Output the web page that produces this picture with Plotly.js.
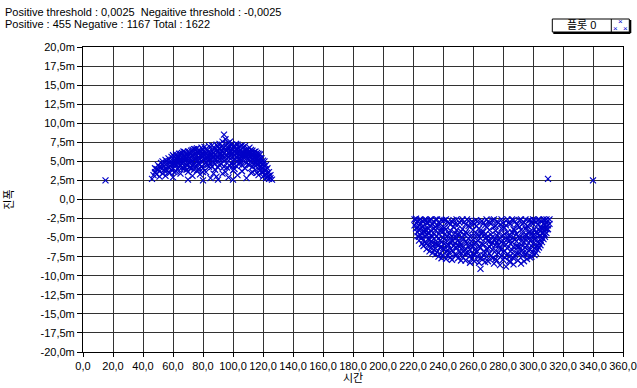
<!DOCTYPE html>
<html>
<head>
<meta charset="utf-8">
<script src="https://cdn.plot.ly/plotly-3.0.1.min.js"></script>
<style>html,body{margin:0;padding:0;background:#fff;}#chart{width:637px;height:388px;}</style>
</head>
<body>
<div id="chart"></div>
<script>
// Series name
var seriesName = '플롯 0';
// Header texts
var headerLine1 = 'Positive threshold : 0,0025  Negaitive threshold : -0,0025';
var headerLine2 = 'Positive : 455 Negative : 1167 Total : 1622';
// Axis titles
var xTitle = '시간';
var yTitle = '진폭';
// Tick values / labels
var xTickVals = [0,20,40,60,80,100,120,140,160,180,200,220,240,260,280,300,320,340,360];
var xTickText = ['0,0','20,0','40,0','60,0','80,0','100,0','120,0','140,0','160,0','180,0','200,0','220,0','240,0','260,0','280,0','300,0','320,0','340,0','360,0'];
var yTickVals = [20,17.5,15,12.5,10,7.5,5,2.5,0,-2.5,-5,-7.5,-10,-12.5,-15,-17.5,-20];
var yTickText = ['20,0m','17,5m','15,0m','12,5m','10,0m','7,5m','5,0m','2,5m','0,0','-2,5m','-5,0m','-7,5m','-10,0m','-12,5m','-15,0m','-17,5m','-20,0m'];

// Positive cluster points [time, amplitude(m)]
var positivePts = [
[46,2.7],[47,3.2],[48,3.6],[48,4.1],[49,3.3],[50,3.9],[50,4.5],[51,3.0],[51,3.7],[52,4.2],[52,4.8],[53,3.4],[53,5.0],[54,3.9],[54,4.4],[55,5.2],[55,3.1],[56,4.7],[56,3.8],[57,5.4],[57,4.2],[58,5.0],[58,3.5],[59,5.6],[59,4.6],
[60,5.8],[60,4.1],[60,2.9],[61,5.2],[61,4.6],[62,5.9],[62,3.7],[63,5.5],[63,4.9],[64,6.0],[64,4.3],[65,5.3],[65,3.4],[66,6.1],[66,4.8],[67,5.7],[67,4.0],[68,6.2],[68,5.1],[69,4.5],[69,5.9],[70,6.3],[70,3.6],[70,2.6],
[71,5.4],[71,4.2],[72,6.4],[72,4.9],[73,5.8],[73,3.1],[74,6.6],[74,5.2],[75,4.4],[75,6.0],[76,6.7],[76,3.8],[77,5.5],[77,4.7],[78,6.3],[78,3.3],[79,6.8],[79,5.0],[80,5.9],[80,4.1],[80,2.5],
[81,6.9],[81,4.6],[82,5.6],[82,3.6],[83,6.5],[83,5.1],[84,7.0],[84,4.3],[85,6.1],[85,2.8],[86,5.4],[86,7.1],[87,4.8],[87,6.6],[88,3.9],[88,5.8],[89,7.2],[89,3.0],[90,6.3],[90,5.0],[90,2.6],
[91,7.3],[91,4.5],[92,6.0],[92,5.5],[93,7.6],[93,3.4],[94,8.5],[94,6.8],[95,5.2],[95,7.9],[96,4.2],[96,6.4],[97,7.4],[97,2.9],[98,5.7],[98,6.9],[99,4.7],[99,7.2],[100,6.1],[100,3.8],[100,2.6],
[101,7.0],[101,5.3],[102,6.6],[102,4.4],[103,7.2],[103,3.2],[104,5.9],[104,6.8],[105,4.9],[105,7.0],[106,6.2],[106,3.7],[107,5.5],[107,6.9],[108,4.1],[108,6.4],[109,5.8],[109,2.8],[110,6.6],[110,4.6],
[111,5.2],[111,6.3],[112,3.5],[112,6.5],[113,5.7],[113,4.3],[114,6.2],[114,5.0],[115,6.3],[115,3.9],[116,5.5],[116,4.6],[117,6.0],[117,3.2],[118,5.4],[118,4.2],[119,4.9],[119,3.6],[120,5.1],[120,3.0],[121,4.4],[121,3.8],[122,3.9],[122,3.3],[123,3.5],[123,2.9],[124,3.1],[124,2.7],[125,2.8],[126,2.6],
[49,4.0],[51,4.3],[53,4.6],[55,4.0],[56,5.0],[57,3.6],[58,4.4],[59,3.9],[60,5.1],[61,3.6],[62,5.0],[62,4.5],[63,4.0],[64,5.6],[64,5.1],[65,4.5],[65,6.0],[66,5.4],[66,4.2],[67,4.9],[67,6.3],[68,4.3],[68,5.6],[69,5.2],[69,3.9],[70,5.0],[70,4.6],[70,5.7],
[71,6.1],[71,4.8],[72,5.6],[72,4.1],[73,5.0],[73,6.5],[74,4.6],[74,3.9],[75,5.3],[75,6.6],[76,5.0],[76,4.5],[77,6.2],[77,3.9],[78,5.3],[78,4.6],[79,5.8],[79,4.3],[80,6.5],[80,5.2],[80,3.6],
[81,5.3],[81,6.2],[82,4.9],[82,6.6],[83,4.5],[83,5.8],[84,5.6],[84,6.3],[85,4.7],[85,5.3],[86,4.3],[86,6.4],[87,5.5],[87,3.4],[88,6.7],[88,4.7],[89,5.2],[89,6.4],[90,4.2],[90,6.9],[90,5.6],
[91,5.9],[91,6.6],[92,4.7],[92,6.9],[93,5.3],[93,6.4],[94,5.0],[94,4.3],[95,6.5],[95,3.6],[96,5.7],[96,7.3],[97,5.1],[97,6.1],[98,4.4],[98,7.6],[99,5.5],[99,6.3],[100,5.0],[100,6.9],[100,4.5],
[101,6.3],[101,4.0],[102,5.6],[102,7.3],[103,5.0],[103,6.1],[104,4.6],[104,5.3],[105,6.4],[105,5.7],[106,4.5],[106,7.1],[107,5.0],[107,6.2],[108,5.5],[108,7.0],[109,4.8],[109,6.5],[110,5.3],[110,5.9],
[111,4.5],[111,6.8],[112,5.0],[112,5.8],[113,6.4],[113,3.6],[114,4.7],[114,5.6],[115,5.0],[115,4.4],[116,6.1],[116,3.5],[117,5.1],[117,4.6],[118,5.9],[118,3.8],[119,5.4],[119,4.3],[120,4.6],[120,3.6],[121,5.0],[121,3.2],[122,4.5],[122,2.8],[123,4.1],[124,3.6],[125,3.2],
[58,4.8],[60,4.6],[61,5.6],[63,5.1],[64,4.7],[66,5.0],[67,5.3],[69,5.5],[71,5.8],[72,5.2],[73,4.5],[74,5.9],[75,5.6],[76,6.2],[77,5.1],[78,5.8],[79,6.3],[81,5.8],[82,6.1],[83,5.5],[84,5.1],[85,5.8],[86,5.9],[87,6.1],[88,5.3],[89,5.7],
[91,5.3],[92,6.4],[93,5.8],[93,7.0],[94,6.1],[95,5.8],[96,6.8],[97,5.6],[97,6.8],[98,6.3],[99,5.9],[99,6.7],[101,5.8],[102,6.1],[103,5.5],[103,6.6],[104,6.3],[105,5.3],[106,5.8],[107,5.9],[108,6.0],[109,6.1],[110,6.2],[111,5.7],[112,6.1],[113,5.3],[114,5.9],[115,5.5],[116,5.0],[117,5.5],[118,5.0],[119,4.6]
];
// Negative cluster points
var negativePts = [
[221,-2.6],[222,-3.1],[222,-3.8],[223,-2.9],[223,-4.3],[224,-3.4],[224,-2.7],[225,-4.7],[225,-3.9],[225,-3.2],
[226,-2.8],[226,-5.0],[227,-4.1],[227,-3.5],[228,-5.6],[228,-2.6],[229,-4.6],[229,-3.0],[230,-6.0],[230,-5.2],[230,-3.8],
[231,-2.7],[231,-4.4],[232,-6.3],[232,-5.5],[233,-3.3],[233,-4.9],[234,-6.6],[234,-2.9],[235,-5.8],[235,-4.0],[235,-3.6],
[236,-6.9],[236,-2.6],[237,-5.1],[237,-4.5],[238,-7.1],[238,-3.2],[239,-6.2],[239,-5.6],[240,-4.2],[240,-7.3],[240,-2.8],
[241,-3.7],[241,-6.5],[242,-5.3],[242,-2.6],[243,-7.4],[243,-4.8],[244,-3.1],[244,-6.0],[245,-5.6],[245,-7.6],[245,-4.1],
[246,-2.9],[246,-6.7],[247,-3.6],[247,-5.0],[248,-7.2],[248,-4.4],[249,-2.6],[249,-6.3],[250,-5.4],[250,-7.7],[250,-3.3],
[251,-4.7],[251,-6.9],[252,-2.8],[252,-5.9],[253,-3.9],[253,-7.5],[254,-5.2],[254,-3.0],[255,-6.4],[255,-4.3],[255,-8.0],
[256,-2.6],[256,-5.7],[257,-7.1],[257,-3.5],[258,-4.9],[258,-6.6],[259,-2.9],[259,-7.8],[260,-5.3],[260,-4.0],[260,-6.1],
[261,-3.2],[261,-7.3],[262,-5.6],[262,-2.7],[263,-4.5],[263,-6.8],[264,-8.3],[264,-3.8],[265,-5.1],[265,-9.1],[265,-6.3],
[266,-2.8],[266,-7.6],[267,-4.2],[267,-5.9],[268,-3.4],[268,-7.0],[269,-6.5],[269,-2.6],[270,-4.8],[270,-8.1],[270,-5.4],
[271,-3.0],[271,-6.2],[272,-7.4],[272,-4.6],[273,-2.7],[273,-5.7],[274,-8.4],[274,-3.6],[275,-6.7],[275,-4.1],[275,-5.1],
[276,-2.9],[276,-7.2],[277,-4.4],[277,-6.0],[278,-3.3],[278,-8.6],[279,-5.5],[279,-2.6],[280,-6.9],[280,-4.7],[280,-7.9],
[281,-3.7],[281,-5.2],[282,-8.8],[282,-2.8],[283,-6.4],[283,-4.3],[284,-7.5],[284,-3.1],[285,-5.8],[285,-8.2],[285,-4.9],
[286,-2.6],[286,-6.6],[287,-3.9],[287,-7.7],[288,-5.3],[288,-2.9],[289,-6.1],[289,-4.5],[290,-8.0],[290,-3.4],[290,-7.1],
[291,-5.0],[291,-2.7],[292,-6.8],[292,-4.0],[293,-7.4],[293,-3.2],[294,-5.6],[294,-8.1],[295,-4.6],[295,-2.6],[295,-6.3],
[296,-3.5],[296,-7.0],[297,-5.2],[297,-2.8],[298,-6.6],[298,-4.2],[299,-7.5],[299,-3.0],[300,-5.8],[300,-4.8],[300,-6.9],
[301,-2.7],[301,-3.9],[302,-6.2],[302,-5.1],[303,-3.3],[303,-4.5],[304,-5.7],[304,-2.6],[305,-4.1],[305,-3.6],[306,-5.0],[306,-2.9],
[307,-3.2],[307,-4.4],[308,-2.7],[308,-3.8],[309,-3.0],[309,-2.6],[310,-2.8],[311,-2.6],
[221,-3.4],[222,-2.5],[223,-3.6],[224,-4.0],[224,-4.9],[225,-2.6],[226,-3.6],[226,-4.4],[227,-2.9],[227,-5.3],[228,-3.9],[228,-4.8],[229,-5.8],[229,-2.7],[230,-4.4],[230,-3.1],
[231,-3.5],[231,-5.2],[232,-2.6],[232,-4.1],[233,-5.7],[233,-6.1],[234,-3.8],[234,-4.5],[235,-2.6],[235,-6.4],[236,-3.4],[236,-4.8],[237,-6.0],[237,-3.0],[238,-5.4],[238,-4.1],[239,-2.7],[239,-3.7],[240,-5.0],[240,-6.4],
[241,-2.7],[241,-4.6],[242,-6.9],[242,-3.9],[243,-3.0],[243,-5.9],[244,-4.5],[244,-7.0],[245,-3.3],[245,-6.5],[246,-4.8],[246,-5.5],[247,-2.7],[247,-6.1],[248,-3.2],[248,-5.7],[249,-4.0],[249,-7.3],[250,-4.6],[250,-6.0],
[251,-3.0],[251,-5.6],[252,-4.2],[252,-7.0],[253,-2.6],[253,-6.3],[254,-4.6],[254,-6.8],[255,-3.3],[255,-5.6],[256,-4.4],[256,-6.9],[257,-2.8],[257,-5.1],[258,-3.6],[258,-7.4],[259,-4.7],[259,-6.0],[260,-3.0],[260,-7.2],
[261,-4.6],[261,-5.9],[262,-3.5],[262,-6.9],[263,-2.9],[263,-5.4],[264,-4.9],[264,-6.2],[265,-3.0],[265,-7.7],[266,-4.4],[266,-5.8],[267,-3.1],[267,-6.8],[268,-5.1],[268,-4.6],[269,-3.6],[269,-7.5],[270,-2.9],[270,-6.4],
[271,-4.0],[271,-7.1],[272,-3.2],[272,-5.9],[273,-4.9],[273,-6.6],[274,-2.6],[274,-5.3],[275,-3.5],[275,-7.8],[276,-4.7],[276,-5.6],[277,-3.0],[277,-7.0],[278,-5.0],[278,-6.4],[279,-3.8],[279,-7.4],[280,-3.1],[280,-5.8],
[281,-4.5],[281,-6.7],[282,-3.4],[282,-5.9],[283,-2.6],[283,-7.2],[284,-4.8],[284,-5.5],[285,-3.2],[285,-6.8],[286,-4.3],[286,-5.6],[287,-2.7],[287,-6.2],[288,-4.1],[288,-7.3],[289,-3.3],[289,-5.5],[290,-4.8],[290,-6.2],
[291,-3.6],[291,-7.0],[292,-2.6],[292,-5.5],[293,-4.5],[293,-6.1],[294,-3.0],[294,-6.9],[295,-3.8],[295,-5.2],[296,-4.7],[296,-6.0],[297,-3.6],[297,-6.7],[298,-2.7],[298,-5.4],[299,-4.5],[299,-6.1],[300,-3.2],[300,-2.6],
[301,-5.2],[301,-6.4],[302,-3.0],[302,-4.3],[303,-5.6],[303,-2.7],[304,-4.0],[304,-4.8],[305,-5.3],[305,-2.8],[306,-3.8],[306,-4.4],[307,-2.6],[307,-3.7],[308,-4.6],[308,-3.3],[309,-3.9],[310,-3.4],
[258,-8.3],[287,-8.5],[292,-8.4],
[223,-4.8],[224,-5.4],[226,-5.8],[227,-6.1],[229,-6.5],[231,-6.8],[233,-7.0],[235,-7.2],[237,-7.5],[239,-7.7],[242,-7.8],[246,-7.9],[252,-8.0],[261,-8.1],[268,-8.2],[276,-8.0],[284,-8.1],[296,-7.8],[298,-7.6],[301,-7.3],[302,-7.0],[303,-6.6],[304,-6.3],[305,-6.0],[306,-5.6],[307,-5.2],[308,-4.9],[309,-4.4],[310,-3.9],[311,-3.2],
[228,-4.3],[232,-4.7],[234,-5.2],[236,-5.9],[238,-6.3],[241,-5.8],[243,-6.6],[245,-5.0],[247,-6.8],[249,-5.0],[251,-6.2],[253,-5.0],[255,-7.2],[257,-6.2],[259,-5.5],[261,-6.6],[263,-7.5],[265,-4.4],[267,-7.3],[269,-5.0],[271,-5.5],[273,-7.7],[275,-6.0],[277,-5.3],[279,-6.5],[281,-7.6],[283,-5.2],[285,-7.4],[287,-5.0],[289,-7.0],[291,-6.2],[293,-5.0],[295,-7.2],[297,-4.4],[299,-5.3],[301,-4.6],[303,-6.1],[305,-4.7]
];
// Isolated points
var isolatedPts = [[15,2.5],[310,2.7],[340,2.5]];

var allPts = positivePts.concat(negativePts).concat(isolatedPts);
var xs = allPts.map(function(p){return p[0];});
var ys = allPts.map(function(p){return p[1];});

var font = {family: '"Liberation Sans", Arial, "Noto Sans CJK KR", sans-serif', size: 11, color: '#000'};
var gridColor = 'rgb(50,50,50)';

var trace = {
  x: xs, y: ys, type: 'scatter', mode: 'markers', name: seriesName,
  marker: {symbol: 'x-thin-open', size: 6, color: 'rgb(0,0,200)', line: {width: 1.2, color: 'rgb(0,0,200)'}},
  showlegend: false, hoverinfo: 'x+y'
};

function px2x(px){return (px-82.7)/540;}
function py2y(py){return (352-py)/305;}

var layout = {
  width: 637, height: 388,
  margin: {l: 83, r: 14, t: 47, b: 36, pad: 0},
  paper_bgcolor: '#fff', plot_bgcolor: '#fff',
  font: font,
  xaxis: {
    range: [0, 360], tickvals: xTickVals, ticktext: xTickText,
    showgrid: true, gridcolor: gridColor, gridwidth: 1,
    showline: true, linecolor: '#000', linewidth: 1, mirror: true,
    ticks: 'outside', ticklen: 4, tickcolor: '#000', zeroline: false,
    tickfont: font,
    title: {text: xTitle, font: font, standoff: 2}
  },
  yaxis: {
    range: [-20, 20], tickvals: yTickVals, ticktext: yTickText,
    showgrid: true, gridcolor: gridColor, gridwidth: 1,
    showline: true, linecolor: '#000', linewidth: 1, mirror: true,
    ticks: 'outside', ticklen: 5, tickcolor: '#000', zeroline: false,
    tickfont: font,
    title: {text: yTitle, font: font, standoff: 24}
  },
  shapes: [
    {type: 'rect', xref: 'paper', yref: 'paper', x0: px2x(552), x1: px2x(629), y0: py2y(32), y1: py2y(19), line: {color: '#000', width: 1}, fillcolor: '#fff'},
    {type: 'line', xref: 'paper', yref: 'paper', x0: px2x(611), x1: px2x(611), y0: py2y(32), y1: py2y(19), line: {color: '#000', width: 1}},
    {type: 'line', xref: 'paper', yref: 'paper', x0: px2x(553), x1: px2x(630), y0: py2y(33), y1: py2y(33), line: {color: '#000', width: 2}},
    {type: 'line', xref: 'paper', yref: 'paper', x0: px2x(630), x1: px2x(630), y0: py2y(33), y1: py2y(20), line: {color: '#000', width: 2}}
  ],
  annotations: [
    {text: headerLine1, xref: 'paper', yref: 'paper', x: px2x(3), y: py2y(4), xanchor: 'left', yanchor: 'top', showarrow: false, font: font},
    {text: headerLine2, xref: 'paper', yref: 'paper', x: px2x(3), y: py2y(16), xanchor: 'left', yanchor: 'top', showarrow: false, font: font},
    {text: seriesName, xref: 'paper', yref: 'paper', x: px2x(581), y: py2y(25.5), xanchor: 'center', yanchor: 'middle', showarrow: false, font: font},
    {text: '×', xref: 'paper', yref: 'paper', x: px2x(620), y: py2y(22), xanchor: 'center', yanchor: 'middle', showarrow: false, font: {family: font.family, size: 8, color: 'rgb(0,0,205)'}},
    {text: '×', xref: 'paper', yref: 'paper', x: px2x(615), y: py2y(28), xanchor: 'center', yanchor: 'middle', showarrow: false, font: {family: font.family, size: 8, color: 'rgb(0,0,205)'}},
    {text: '×', xref: 'paper', yref: 'paper', x: px2x(625), y: py2y(28), xanchor: 'center', yanchor: 'middle', showarrow: false, font: {family: font.family, size: 8, color: 'rgb(0,0,205)'}}
  ]
};

Plotly.newPlot('chart', [trace], layout, {displayModeBar: false, staticPlot: true});
</script>
</body>
</html>
